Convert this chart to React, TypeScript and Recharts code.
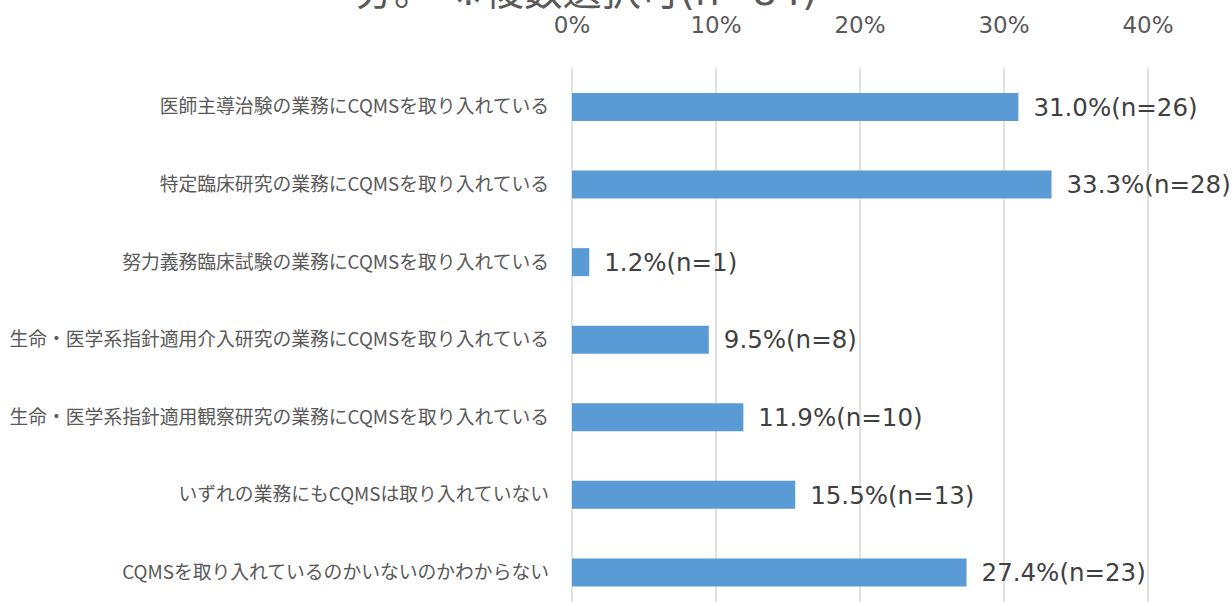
import { Bar, BarChart, CartesianGrid, LabelList, XAxis, YAxis } from 'recharts'

const categories = [
  '医師主導治験の業務にCQMSを取り入れている',
  '特定臨床研究の業務にCQMSを取り入れている',
  '努力義務臨床試験の業務にCQMSを取り入れている',
  '生命・医学系指針適用介入研究の業務にCQMSを取り入れている',
  '生命・医学系指針適用観察研究の業務にCQMSを取り入れている',
  'いずれの業務にもCQMSは取り入れていない',
  'CQMSを取り入れているのかいないのかわからない',
]
const percents = [31.0, 33.3, 1.2, 9.5, 11.9, 15.5, 27.4]
const counts = [26, 28, 1, 8, 10, 13, 23]
const xTicks = [0, 10, 20, 30, 40]
const titleHead = '分。'
const titleTail = '※複数選択可(n=84)'

const data = categories.map((name, i) => ({
  name,
  value: percents[i],
  label: `${percents[i].toFixed(1)}%(n=${counts[i]})`,
}))

const CJK = "'Noto Sans CJK JP', 'Noto Sans', sans-serif"
const LATIN = "'DejaVu Sans', Verdana, sans-serif"
const MIXED = "'DejaVu Sans', 'Noto Sans CJK JP', sans-serif"

function App() {
  return (
    <div
      style={{
        position: 'fixed',
        left: 0,
        top: 0,
        width: 1232,
        height: 602,
        overflow: 'hidden',
        background: '#fff',
      }}
    >
      <svg width={1232} height={40} style={{ position: 'absolute', left: 0, top: 0 }}>
        <text y={5} fontSize={39} fill="#595959" fontFamily={MIXED}>
          <tspan x={355}>{titleHead}</tspan>
          <tspan x={452}>{titleTail}</tspan>
        </text>
      </svg>
      <BarChart
        width={1232}
        height={620}
        data={data}
        layout="vertical"
        barCategoryGap={0}
        margin={{ top: 0, right: 84, bottom: 9, left: 0 }}
      >
        <CartesianGrid horizontal={false} stroke="#d9d9d9" strokeWidth={1.5} />
        <XAxis
          type="number"
          orientation="top"
          domain={[0, 40]}
          ticks={xTicks}
          tickFormatter={(v) => `${v}%`}
          height={68}
          axisLine={false}
          tickLine={false}
          tickSize={0}
          tickMargin={35}
          tick={{ fill: '#595959', fontSize: 23, fontFamily: LATIN }}
        />
        <YAxis
          type="category"
          dataKey="name"
          width={572}
          axisLine={false}
          tickLine={false}
          tickSize={0}
          tickMargin={23}
          interval={0}
          tick={{ fill: '#595959', fontSize: 18.8, fontFamily: CJK }}
        />
        <Bar dataKey="value" fill="#5b9bd5" barSize={28} isAnimationActive={false}>
          <LabelList
            dataKey="label"
            position="right"
            offset={15}
            fill="#404040"
            fontSize={24.5}
            fontFamily={LATIN}
          />
        </Bar>
      </BarChart>
    </div>
  )
}

export default App
